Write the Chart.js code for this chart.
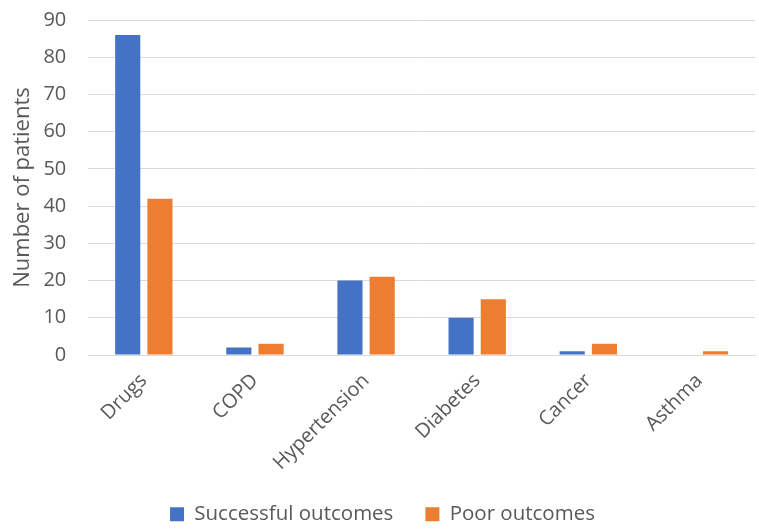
<!DOCTYPE html>
<html>
<head>
<meta charset="utf-8">
<script src="https://cdn.jsdelivr.net/npm/chart.js@4.4.1/dist/chart.umd.min.js"></script>
<style>
  html, body { margin: 0; padding: 0; background: #fff; }
  #wrap { width: 759px; height: 531px; }
</style>
</head>
<body>
<div id="wrap"><canvas id="outcomeChart"></canvas></div>
<script>
// Categories and values
const categories = ['Drugs', 'COPD', 'Hypertension', 'Diabetes', 'Cancer', 'Asthma'];
const successful = [86, 2, 20, 10, 1, 0];
const poor = [42, 3, 21, 15, 3, 1];
const yTicks = { min: 0, max: 90, step: 10 };

const textColor = '#595959';
const fontFamily = '"Open Sans", "Noto Sans", sans-serif';

const ctx = document.getElementById('outcomeChart').getContext('2d');
new Chart(ctx, {
    type: 'bar',
    data: {
        labels: categories,
        datasets: [{
            label: 'Successful outcomes',
            data: successful,
            backgroundColor: '#4472C4',
            categoryPercentage: 0.58,
            barPercentage: 0.78
        }, {
            label: 'Poor outcomes',
            data: poor,
            backgroundColor: '#ED7D31',
            categoryPercentage: 0.58,
            barPercentage: 0.78
        }]
    },
    options: {
        responsive: true,
        maintainAspectRatio: false,
        animation: false,
        layout: { padding: { left: 10, right: 4, top: 0, bottom: 0 } },
        plugins: {
            legend: {
                position: 'bottom',
                maxHeight: 59,
                labels: {
                    color: textColor,
                    font: { family: fontFamily, size: 20.5 },
                    boxWidth: 14,
                    boxHeight: 14,
                    padding: 32
                }
            },
            tooltip: { enabled: false }
        },
        scales: {
            x: {
                grid: { display: false },
                border: { color: '#d9d9d9', width: 1 },
                ticks: {
                    color: textColor,
                    font: { family: fontFamily, size: 20 },
                    minRotation: 45,
                    maxRotation: 45,
                    padding: 6
                },
                // rotated labels reserve more room than they draw
                afterFit: function (scale) {
                    scale.height = Math.min(scale.height, 117);
                }
            },
            y: {
                min: yTicks.min,
                max: yTicks.max,
                grid: { color: '#d9d9d9', lineWidth: 1, drawTicks: false },
                border: { display: false },
                ticks: {
                    stepSize: yTicks.step,
                    color: textColor,
                    font: { family: fontFamily, size: 20 },
                    padding: 22
                },
                title: {
                    display: true,
                    text: 'Number of patients',
                    color: textColor,
                    font: { family: fontFamily, size: 22 },
                    padding: { top: 0, bottom: 6 }
                },
                // tick padding gets counted twice in the width, and the top
                // padding would push the plot down; trim both
                afterFit: function (scale) {
                    scale.width = scale.width - 21;
                    scale.paddingTop = 20;
                }
            }
        }
    }
});
</script>
</body>
</html>
